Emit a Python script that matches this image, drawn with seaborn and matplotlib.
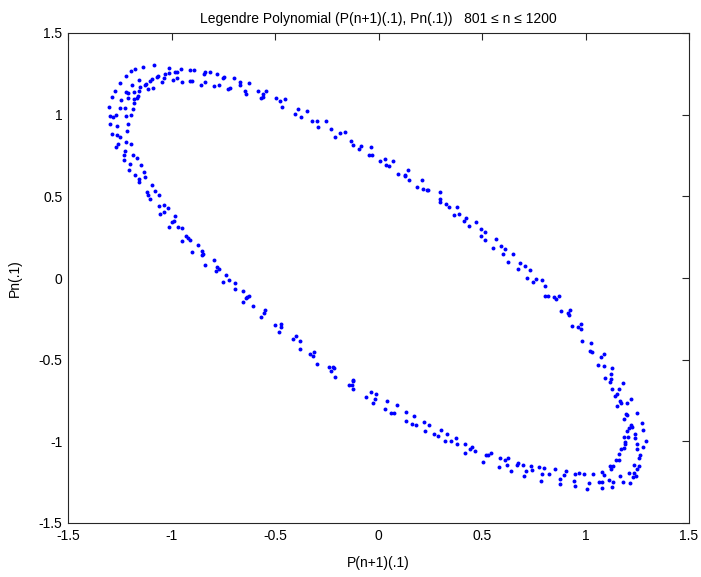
import matplotlib
matplotlib.use("Agg")
import matplotlib.pyplot as plt
import seaborn as sns
import pandas as pd

# P(n+1)(.1) values (horizontal) and Pn(.1) values (vertical), 801 <= n <= 1200
p_next = [
    # upper-left arc
    -1.085, -1.138, -1.175, -1.197, -1.014, -0.953, -0.973, -0.984, -1.013, -1.032,
    -0.913, -0.889, -0.840, -0.816, -0.845, -0.778, -0.744, -0.752, -0.697, -1.064,
    -1.071, -1.095, -1.102, -1.038, -1.045, -0.995, -0.973, -0.947, -0.913, -0.899,
    -0.837, -0.859, -0.795, -0.771, -0.729, -0.715, -0.670, -0.670, -0.625, -0.646,
    -0.639, -0.580, -0.545, -0.560, -0.566, -0.559, -0.495, -0.478, -0.454, -0.466,
    -0.391, -0.402,
    # left end
    -1.221, -1.250, -1.192, -1.157, -1.130, -1.122, -1.152, -1.157, -1.183, -1.114,
    -1.087, -1.162, -1.167, -1.212, -1.221, -1.272, -1.288, -1.242, -1.212, -1.183,
    -1.181, -1.184, -1.223, -1.250, -1.301, -1.298, -1.282, -1.266, -1.218, -1.197,
    -1.210, -1.298, -1.263, -1.215, -1.288, -1.261, -1.247, -1.218, -1.198, -1.260,
    -1.269, -1.226, -1.231, -1.229, -1.184, -1.165, -1.202, -1.149, -1.203, -1.175,
    -1.131, -1.126, -1.159, -1.155, -1.093, -1.120, -1.082,
    # lower-left branch
    -1.115, -1.059, -1.106, -1.062, -1.034, -1.019, -1.056, -1.035, -0.984, -0.989,
    -0.997, -1.014, -0.971, -0.950, -0.929, -0.921, -0.947, -0.912, -0.873, -0.902,
    -0.851, -0.846, -0.854, -0.796, -0.840, -0.780, -0.772, -0.784, -0.736, -0.723,
    -0.753, -0.692, -0.691, -0.654, -0.627, -0.633, -0.638, -0.656, -0.604, -0.548,
    -0.553, -0.566, -0.502, -0.473, -0.470,
    # lower-middle branch
    -0.481, -0.397, -0.413, -0.378, -0.378, -0.330, -0.311, -0.317, -0.295, -0.240,
    -0.220, -0.213, -0.231, -0.212, -0.122, -0.122, -0.141, -0.128, -0.125, -0.035,
    -0.010, -0.061, -0.019, -0.026, 0.042, 0.087, 0.032, 0.061, 0.077, 0.131,
    0.170, 0.135, 0.163, 0.183, 0.221, 0.245, 0.224, 0.266, 0.288, 0.301,
    0.332, 0.372,
    0.322, 0.349, 0.378, 0.417, 0.417, 0.444, 0.450, 0.468,
    # upper-middle branch
    -0.374, -0.346, -0.321, -0.298, -0.292, -0.253, -0.231, -0.208, -0.186, -0.160,
    -0.135, -0.125, -0.096, -0.083, -0.038, -0.048, -0.029, 0.006, 0.030, 0.038,
    0.051, 0.069, 0.093, 0.126, 0.130, 0.141, 0.148, 0.210, 0.186, 0.215,
    0.234, 0.237, 0.298, 0.297, 0.297, 0.327, 0.341, 0.378, 0.365, 0.388,
    0.425, 0.412, 0.436, 0.471,
    # upper-right branch
    0.497, 0.513, 0.494, 0.516, 0.567, 0.554, 0.593, 0.612, 0.603, 0.648,
    0.628, 0.683, 0.708, 0.673, 0.734, 0.715, 0.763, 0.744, 0.788, 0.804,
    0.804, 0.817, 0.846, 0.859, 0.870, 0.881, 0.926, 0.917, 0.920, 0.934,
    0.966, 0.979, 0.976,
    # right end and lower-right arc
    0.982, 1.027, 1.024, 1.029, 1.076, 1.091, 1.059, 1.087, 1.130, 1.122,
    1.095, 1.123, 1.119, 1.183, 1.130, 1.163, 1.154, 1.141, 1.165, 1.173,
    1.199, 1.218, 1.151, 1.197, 1.200, 1.188, 1.251, 1.218, 1.225, 1.212,
    1.271, 1.199, 1.280, 1.237, 1.186, 1.207, 1.239, 1.290, 1.192, 1.192,
    1.247, 1.188, 1.277, 1.170, 1.248, 1.162, 1.264, 1.258, 1.147, 1.162,
    1.234, 1.257, 1.133, 1.117, 1.247, 1.125, 1.082, 1.090, 1.234, 1.210,
    1.167, 1.242, 1.229, 1.181, 1.216, 1.131, 1.114, 1.082, 1.066, 1.126,
    1.080, 1.034, 1.018, 1.008, 0.946, 0.947, 0.994, 0.970, 0.947, 0.907,
    0.894, 0.875, 0.878, 0.853, 0.822, 0.792, 0.785, 0.798, 0.774, 0.739,
    0.742, 0.712, 0.705, 0.697, 0.676, 0.670, 0.641, 0.625, 0.611, 0.619,
    0.587, 0.582, 0.543, 0.530, 0.518, 0.506,
]

p_n = [
    # upper-left arc
    1.305, 1.293, 1.282, 1.268, 1.288, 1.282, 1.260, 1.260, 1.254, 1.252,
    1.272, 1.272, 1.260, 1.260, 1.250, 1.248, 1.232, 1.224, 1.226, 1.236,
    1.230, 1.218, 1.209, 1.222, 1.199, 1.213, 1.222, 1.201, 1.207, 1.207,
    1.201, 1.183, 1.173, 1.181, 1.157, 1.165, 1.199, 1.181, 1.191, 1.142,
    1.128, 1.142, 1.144, 1.124, 1.102, 1.110, 1.102, 1.083, 1.096, 1.047,
    1.035, 1.006,
    # left end
    1.238, 1.195, 1.179, 1.211, 1.179, 1.187, 1.169, 1.146, 1.138, 1.157,
    1.163, 1.112, 1.104, 1.132, 1.136, 1.142, 1.106, 1.087, 1.100, 1.098,
    1.069, 1.035, 1.041, 1.041, 1.047, 0.994, 0.984, 0.996, 0.990, 0.996,
    0.945, 0.943, 0.933, 0.898, 0.882, 0.876, 0.862, 0.831, 0.819, 0.821,
    0.805, 0.776, 0.752, 0.721, 0.754, 0.732, 0.699, 0.691, 0.660, 0.632,
    0.646, 0.620, 0.604, 0.585, 0.571, 0.528, 0.530,
    # lower-left branch
    0.508, 0.508, 0.486, 0.439, 0.449, 0.427, 0.394, 0.407, 0.382, 0.352,
    0.343, 0.313, 0.311, 0.309, 0.256, 0.246, 0.227, 0.230, 0.203, 0.159,
    0.163, 0.146, 0.138, 0.110, 0.081, 0.069, 0.055, 0.045, 0.020, -0.012,
    -0.023, -0.032, -0.069, -0.081, -0.112, -0.116, -0.122, -0.144, -0.171, -0.195,
    -0.215, -0.238, -0.285, -0.279, -0.301,
    # lower-middle branch
    -0.331, -0.356, -0.376, -0.388, -0.437, -0.465, -0.453, -0.480, -0.526, -0.543,
    -0.543, -0.553, -0.567, -0.608, -0.624, -0.632, -0.654, -0.654, -0.681, -0.697,
    -0.709, -0.730, -0.742, -0.764, -0.754, -0.779, -0.799, -0.825, -0.829, -0.823,
    -0.843, -0.876, -0.892, -0.902, -0.884, -0.898, -0.937, -0.953, -0.965, -0.931,
    -0.957, -0.977,
    -1.000, -0.996, -1.016, -1.018, -1.069, -1.049, -1.035, -1.057,
    # upper-middle branch
    0.984, 1.024, 0.959, 0.963, 0.927, 0.959, 0.915, 0.866, 0.886, 0.894,
    0.837, 0.817, 0.788, 0.809, 0.801, 0.756, 0.756, 0.715, 0.727, 0.693,
    0.685, 0.715, 0.638, 0.630, 0.622, 0.659, 0.602, 0.598, 0.557, 0.547,
    0.537, 0.539, 0.524, 0.484, 0.468, 0.455, 0.435, 0.435, 0.386, 0.394,
    0.366, 0.346, 0.317, 0.341,
    # upper-right branch
    0.303, 0.279, 0.258, 0.234, 0.238, 0.185, 0.197, 0.177, 0.145, 0.150,
    0.099, 0.091, 0.075, 0.055, 0.047, 0.002, -0.006, -0.023, -0.010, -0.047,
    -0.108, -0.108, -0.116, -0.128, -0.112, -0.203, -0.197, -0.215, -0.226, -0.295,
    -0.303, -0.282, -0.315,
    # right end and lower-right arc
    -0.386, -0.398, -0.447, -0.455, -0.486, -0.468, -0.535, -0.541, -0.549, -0.587,
    -0.612, -0.618, -0.638, -0.640, -0.681, -0.679, -0.709, -0.724, -0.752, -0.764,
    -0.766, -0.742, -0.782, -0.835, -0.841, -0.862, -0.827, -0.901, -0.915, -0.919,
    -0.890, -0.935, -0.929, -0.957, -0.974, -0.971, -0.977, -0.998, -1.006, -1.018,
    -1.018, -1.043, -1.037, -1.047, -1.049, -1.075, -1.085, -1.102, -1.116, -1.116,
    -1.145, -1.148, -1.152, -1.154, -1.167, -1.171, -1.185, -1.205, -1.193, -1.191,
    -1.211, -1.211, -1.221, -1.250, -1.258, -1.246, -1.234, -1.250, -1.250, -1.280,
    -1.285, -1.203, -1.256, -1.289, -1.244, -1.276, -1.201, -1.193, -1.203, -1.183,
    -1.205, -1.228, -1.260, -1.171, -1.201, -1.203, -1.240, -1.165, -1.157, -1.150,
    -1.175, -1.179, -1.211, -1.144, -1.134, -1.142, -1.183, -1.102, -1.116, -1.146,
    -1.104, -1.157, -1.069, -1.083, -1.081, -1.126,
]

axis_ticks = [-1.5, -1, -0.5, 0, 0.5, 1, 1.5]
tick_labels = ["-1.5", "-1", "-0.5", "0", "0.5", "1", "1.5"]

df = pd.DataFrame({"P(n+1)(.1)": p_next, "Pn(.1)": p_n})

sns.set_theme(style="white")
plt.rcParams["font.family"] = ["Liberation Sans", "DejaVu Sans"]
plt.rcParams["xtick.direction"] = "in"
plt.rcParams["ytick.direction"] = "in"

fig = plt.figure(figsize=(7.01, 5.77), dpi=100)
fig.patch.set_facecolor("white")
ax = fig.add_axes([68 / 701, 54 / 577, 621 / 701, 490 / 577])

sns.scatterplot(data=df, x="P(n+1)(.1)", y="Pn(.1)", ax=ax,
                color="#0000ff", marker="o", s=8, linewidth=0)

ax.set_xlim(-1.5, 1.5)
ax.set_ylim(-1.5, 1.5)
ax.set_xticks(axis_ticks)
ax.set_xticklabels(tick_labels)
ax.set_yticks(axis_ticks)
ax.set_yticklabels(tick_labels)
ax.tick_params(axis="both", which="both", length=5, width=0.8, color="#262626",
               labelsize=10, labelcolor="black", top=True, right=True, pad=4)
for side in ax.spines.values():
    side.set_visible(True)
    side.set_color("#262626")
    side.set_linewidth(0.8)

ax.set_title("Legendre Polynomial (P(n+1)(.1), Pn(.1))   801 \u2264 n \u2264 1200",
             fontsize=10, color="black", pad=7)
ax.set_xlabel("P(n+1)(.1)", fontsize=10, color="black", labelpad=10)
ax.set_ylabel("Pn(.1)", fontsize=10, color="black", labelpad=12)

fig.savefig("out.png", dpi=100, facecolor="white")
